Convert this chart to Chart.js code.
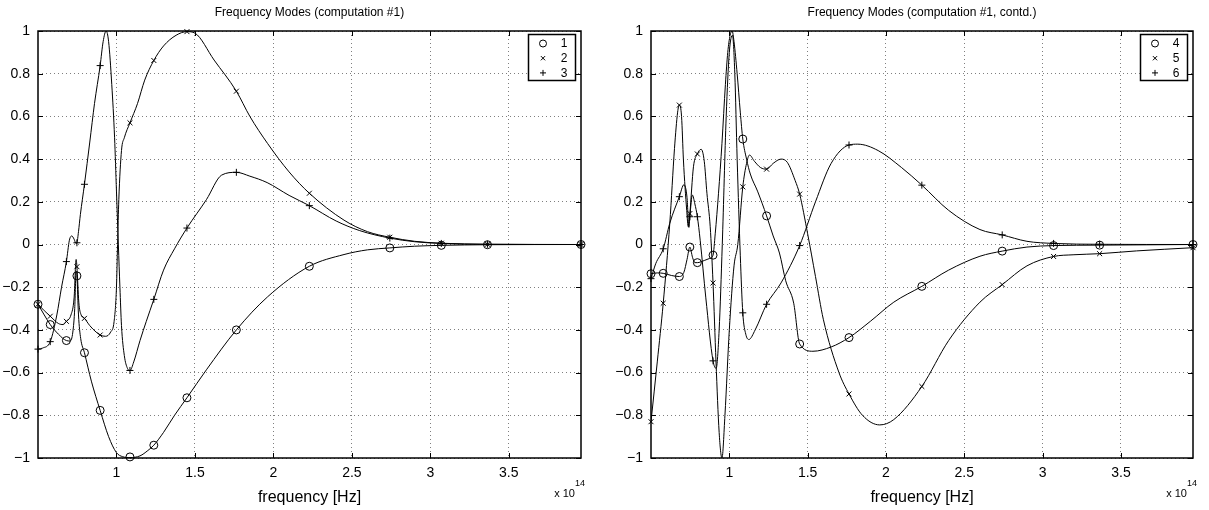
<!DOCTYPE html>
<html>
<head>
<meta charset="utf-8">
<script src="https://cdn.jsdelivr.net/npm/chart.js@4.4.0/dist/chart.umd.min.js"></script>
<style>
  body { margin: 0; background: #fff; }
  #wrap { position: relative; width: 1209px; height: 510px; }
  canvas { position: absolute; top: 0; }
</style>
</head>
<body>
<div id="wrap">
  <canvas id="chartA" width="600" height="510" style="left:0"></canvas>
  <canvas id="chartB" width="609" height="510" style="left:600px"></canvas>
</div>
<script>
// axes (frequency in units of 1e14 Hz)
const xMin = 0.5, xMax = 3.96;
const xTicks = [1, 1.5, 2, 2.5, 3, 3.5];
const yTicks = [-1, -0.8, -0.6, -0.4, -0.2, 0, 0.2, 0.4, 0.6, 0.8, 1];

// frequencies where the modes were sampled (markers)
const sampleFreqs = [0.5, 0.578, 0.681, 0.748, 0.796, 0.896, 1.086, 1.238, 1.449, 1.764, 2.229, 2.742, 3.07, 3.364, 3.96];

// left plot: modes 1-3
const mode1Marks = [-0.28, -0.375, -0.45, -0.147, -0.507, -0.777, -0.995, -0.94, -0.718, -0.40, -0.102, -0.016, -0.004, -0.001, 0];
const mode2Marks = [-0.28, -0.336, -0.36, -0.104, -0.346, -0.424, 0.57, 0.862, 0.997, 0.718, 0.24, 0.034, 0.006, 0.001, 0];
const mode3Marks = [-0.49, -0.455, -0.08, 0.008, 0.282, 0.838, -0.59, -0.257, 0.077, 0.338, 0.182, 0.03, 0.005, 0.001, 0];

const mode1Curve = [[0.5,-0.28],[0.54,-0.33],[0.578,-0.375],[0.63,-0.42],[0.681,-0.45],[0.705,-0.452],[0.722,-0.41],
  [0.734,-0.3],[0.743,-0.125],[0.748,-0.147],[0.758,-0.33],[0.772,-0.44],[0.796,-0.507],[0.84,-0.64],[0.896,-0.777],
  [0.95,-0.9],[1.0,-0.975],[1.04,-0.994],[1.086,-0.998],[1.15,-0.99],[1.2,-0.965],[1.238,-0.94],[1.3,-0.88],[1.37,-0.8],
  [1.449,-0.718],[1.573,-0.587],[1.764,-0.4],[1.963,-0.245],[2.229,-0.102],[2.45,-0.047],[2.6,-0.025],[2.742,-0.016],
  [2.9,-0.008],[3.07,-0.004],[3.364,-0.001],[3.96,0]];
const mode2Curve = [[0.5,-0.28],[0.54,-0.31],[0.578,-0.336],[0.63,-0.37],[0.66,-0.375],[0.681,-0.36],[0.71,-0.33],
  [0.73,-0.25],[0.743,-0.07],[0.748,-0.104],[0.76,-0.27],[0.775,-0.33],[0.796,-0.346],[0.83,-0.38],[0.87,-0.41],
  [0.896,-0.424],[0.93,-0.43],[0.963,-0.41],[0.985,-0.36],[1.0,-0.2],[1.007,0],[1.015,0.21],[1.032,0.44],[1.05,0.5],
  [1.086,0.57],[1.134,0.66],[1.18,0.77],[1.238,0.862],[1.3,0.93],[1.38,0.98],[1.449,0.997],[1.5,0.99],[1.622,0.864],
  [1.764,0.718],[1.85,0.6],[1.963,0.473],[2.1,0.34],[2.229,0.24],[2.45,0.114],[2.6,0.06],[2.742,0.034],[2.9,0.015],
  [3.07,0.006],[3.364,0.001],[3.96,0]];
const mode3Curve = [[0.5,-0.49],[0.53,-0.485],[0.578,-0.455],[0.62,-0.33],[0.65,-0.2],[0.681,-0.08],[0.7,0.02],
  [0.715,0.04],[0.73,0.025],[0.742,0.005],[0.748,0.008],[0.758,0.06],[0.77,0.14],[0.796,0.282],[0.83,0.48],[0.86,0.66],
  [0.896,0.838],[0.915,0.95],[0.934,1.0],[0.95,0.95],[0.97,0.75],[0.988,0.5],[1.0,0.25],[1.012,0],[1.022,-0.2],
  [1.032,-0.38],[1.05,-0.52],[1.07,-0.58],[1.086,-0.59],[1.11,-0.55],[1.15,-0.45],[1.19,-0.36],[1.238,-0.257],
  [1.3,-0.12],[1.37,-0.02],[1.449,0.077],[1.573,0.21],[1.67,0.325],[1.764,0.338],[1.85,0.32],[1.96,0.29],[2.1,0.23],
  [2.229,0.182],[2.4,0.11],[2.55,0.065],[2.742,0.03],[2.9,0.013],[3.07,0.005],[3.364,0.001],[3.96,0]];

// right plot: modes 4-6
const mode4Marks = [-0.137, -0.135, -0.15, -0.012, -0.085, -0.05, 0.494, 0.134, -0.466, -0.436, -0.196, -0.031, -0.005, -0.003, 0];
const mode5Marks = [-0.83, -0.275, 0.653, 0.145, 0.424, -0.18, 0.27, 0.353, 0.236, -0.7, -0.665, -0.188, -0.056, -0.043, -0.015];
const mode6Marks = [-0.16, -0.02, 0.224, 0.13, 0.13, -0.545, -0.32, -0.28, -0.005, 0.466, 0.278, 0.045, 0.005, 0.001, 0];

const mode4Curve = [[0.5,-0.137],[0.54,-0.133],[0.578,-0.135],[0.63,-0.145],[0.681,-0.15],[0.71,-0.13],[0.73,-0.07],
  [0.748,-0.012],[0.765,-0.06],[0.78,-0.085],[0.796,-0.085],[0.84,-0.075],[0.875,-0.065],[0.896,-0.05],[0.91,0.05],
  [0.931,0.24],[0.953,0.474],[0.975,0.75],[0.99,0.9],[1.005,0.98],[1.018,1.0],[1.03,0.95],[1.05,0.8],[1.07,0.62],
  [1.086,0.494],[1.11,0.4],[1.134,0.33],[1.18,0.25],[1.238,0.134],[1.28,0.04],[1.32,-0.04],[1.36,-0.17],[1.411,-0.275],
  [1.449,-0.466],[1.534,-0.5],[1.65,-0.48],[1.764,-0.436],[1.9,-0.36],[2.05,-0.27],[2.229,-0.196],[2.4,-0.12],
  [2.6,-0.055],[2.742,-0.031],[2.9,-0.012],[3.07,-0.005],[3.364,-0.003],[3.96,0]];
const mode5Curve = [[0.5,-0.83],[0.54,-0.55],[0.578,-0.275],[0.62,0.1],[0.65,0.45],[0.67,0.62],[0.681,0.653],
  [0.695,0.6],[0.707,0.396],[0.728,0.16],[0.738,0.083],[0.748,0.145],[0.771,0.364],[0.796,0.424],[0.82,0.446],
  [0.84,0.39],[0.857,0.24],[0.878,0.083],[0.896,-0.18],[0.915,-0.55],[0.935,-0.88],[0.953,-1.0],[0.972,-0.8],
  [1.0,-0.4],[1.03,-0.1],[1.054,0],[1.086,0.27],[1.11,0.38],[1.129,0.419],[1.16,0.39],[1.2,0.36],[1.238,0.353],
  [1.28,0.38],[1.33,0.4],[1.37,0.385],[1.42,0.3],[1.449,0.236],[1.5,0.05],[1.55,-0.15],[1.6,-0.35],[1.7,-0.6],
  [1.764,-0.7],[1.85,-0.8],[1.96,-0.845],[2.05,-0.82],[2.229,-0.665],[2.4,-0.45],[2.6,-0.27],[2.742,-0.188],
  [2.9,-0.1],[3.07,-0.056],[3.2,-0.048],[3.364,-0.043],[3.6,-0.03],[3.96,-0.015]];
const mode6Curve = [[0.5,-0.16],[0.53,-0.09],[0.578,-0.02],[0.62,0.1],[0.681,0.224],[0.71,0.28],[0.73,0.22],
  [0.742,0.08],[0.748,0.13],[0.764,0.232],[0.78,0.19],[0.796,0.13],[0.814,0.02],[0.85,-0.25],[0.896,-0.545],
  [0.916,-0.58],[0.935,-0.4],[0.955,0],[0.98,0.6],[1.0,0.9],[1.02,0.98],[1.035,0.8],[1.05,0.4],[1.07,-0.05],
  [1.086,-0.32],[1.105,-0.42],[1.125,-0.445],[1.165,-0.4],[1.238,-0.28],[1.33,-0.18],[1.449,-0.005],[1.55,0.2],
  [1.65,0.38],[1.764,0.466],[1.82,0.47],[1.95,0.44],[2.1,0.36],[2.229,0.278],[2.4,0.16],[2.6,0.07],[2.742,0.045],
  [2.9,0.015],[3.07,0.005],[3.364,0.001],[3.96,0]];

const leftTitle = 'Frequency Modes (computation #1)';
const rightTitle = 'Frequency Modes (computation #1, contd.)';
const leftLabels = ['1', '2', '3'];
const rightLabels = ['4', '5', '6'];
const markerStyles = ['circle', 'crossRot', 'cross'];

const FONT = "'Liberation Sans', Arial, Helvetica, sans-serif";
Chart.defaults.font.family = FONT;
Chart.defaults.color = '#000';

function lineSet(curve) {
  return {
    data: curve.map(p => ({ x: p[0], y: p[1] })),
    showLine: true, borderColor: '#000', borderWidth: 1, pointRadius: 0,
    cubicInterpolationMode: 'monotone', isCurve: true
  };
}

function markSet(label, values, style) {
  return {
    label: label,
    data: sampleFreqs.map((f, i) => ({ x: f, y: values[i] })),
    showLine: false, pointStyle: style, pointRadius: style === 'circle' ? 4 : 3.5,
    pointBorderWidth: 1, borderColor: '#000', backgroundColor: 'rgba(0,0,0,0)', clip: false
  };
}

// box, inside ticks, legend and exponent label the way MATLAB draws them
const matlabFrame = {
  id: 'matlabFrame',
  afterDraw(chart) {
    const { ctx, chartArea: a, scales: { x, y } } = chart;
    ctx.save();
    ctx.strokeStyle = '#000';
    ctx.lineWidth = 1;
    ctx.beginPath();
    xTicks.forEach(v => {
      const px = Math.round(x.getPixelForValue(v)) + 0.5;
      ctx.moveTo(px, a.bottom); ctx.lineTo(px, a.bottom - 5);
      ctx.moveTo(px, a.top); ctx.lineTo(px, a.top + 5);
    });
    yTicks.forEach(v => {
      const py = Math.round(y.getPixelForValue(v)) + 0.5;
      ctx.moveTo(a.left, py); ctx.lineTo(a.left + 5, py);
      ctx.moveTo(a.right, py); ctx.lineTo(a.right - 5, py);
    });
    ctx.stroke();
    ctx.lineWidth = 1.5;
    ctx.strokeRect(Math.round(a.left), Math.round(a.top), Math.round(a.right - a.left), Math.round(a.bottom - a.top));

    // legend
    const marks = chart.data.datasets.filter(d => !d.isCurve);
    const lw = 47, lh = 46;
    const lx = Math.round(a.right) - lw - 6, ly = Math.round(a.top) + 3;
    ctx.fillStyle = '#fff';
    ctx.fillRect(lx, ly, lw, lh);
    ctx.lineWidth = 1.5;
    ctx.strokeRect(lx + 0.5, ly + 0.5, lw, lh);
    ctx.font = '12px ' + FONT;
    ctx.textAlign = 'center';
    ctx.textBaseline = 'middle';
    marks.forEach((d, i) => {
      const cy = ly + 9.5 + i * 14.7;
      ctx.lineWidth = 1;
      ctx.strokeStyle = '#000';
      ctx.fillStyle = 'rgba(0,0,0,0)';
      Chart.helpers.drawPoint(ctx, { pointStyle: d.pointStyle, radius: d.pointStyle === 'circle' ? 3.5 : 3, borderWidth: 1 }, lx + 15, cy);
      ctx.fillStyle = '#000';
      ctx.fillText(d.label, lx + 36, cy + 0.5);
    });

    // x 10^14
    ctx.textAlign = 'right';
    ctx.textBaseline = 'alphabetic';
    ctx.font = '9px ' + FONT;
    ctx.fillText('14', a.right + 4, 486);
    const w14 = ctx.measureText('14').width;
    ctx.font = '11px ' + FONT;
    ctx.fillText('x 10', a.right + 4 - w14, 497);
    ctx.restore();
  }
};

function makeChart(id, title, labels, curves, marks, yWidth, padRight) {
  const datasets = [];
  curves.forEach(c => datasets.push(lineSet(c)));
  marks.forEach((m, i) => datasets.push(markSet(labels[i], m, markerStyles[i])));
  return new Chart(document.getElementById(id), {
    type: 'scatter',
    data: { datasets: datasets },
    options: {
      responsive: false,
      animation: false,
      events: [],
      layout: { padding: { left: 0, right: padRight, top: 0, bottom: 0 } },
      plugins: {
        legend: { display: false },
        tooltip: { enabled: false },
        title: {
          display: true, text: title, color: '#000', fullSize: false,
          font: { size: 12, weight: 'normal', family: FONT },
          padding: { top: 5, bottom: 11.6 }
        }
      },
      scales: {
        x: {
          type: 'linear', min: xMin, max: xMax,
          afterBuildTicks: s => { s.ticks = xTicks.map(v => ({ value: v })); },
          afterFit: s => { s.height = 52; },
          ticks: { font: { size: 14 }, padding: 7, maxRotation: 0, autoSkip: false,
            callback: v => String(v) },
          grid: { color: 'rgba(0,0,0,0.5)', lineWidth: 1, drawTicks: false },
          border: { display: false, dash: [1, 3] },
          title: { display: true, text: 'frequency [Hz]', font: { size: 16 }, padding: { top: 0, bottom: 3 } }
        },
        y: {
          type: 'linear', min: -1, max: 1,
          afterBuildTicks: s => { s.ticks = yTicks.map(v => ({ value: v })); },
          afterFit: s => { s.width = yWidth; },
          ticks: { font: { size: 14 }, padding: 8, autoSkip: false,
            callback: v => (v === 0 ? '0' : String(v).replace('-', '\u2212')) },
          grid: { color: 'rgba(0,0,0,0.5)', lineWidth: 1, drawTicks: false },
          border: { display: false, dash: [1, 3] }
        }
      }
    },
    plugins: [matlabFrame]
  });
}

makeChart('chartA', leftTitle, leftLabels, [mode1Curve, mode2Curve, mode3Curve],
  [mode1Marks, mode2Marks, mode3Marks], 38, 19);
makeChart('chartB', rightTitle, rightLabels, [mode4Curve, mode5Curve, mode6Curve],
  [mode4Marks, mode5Marks, mode6Marks], 51, 16);
</script>
</body>
</html>
